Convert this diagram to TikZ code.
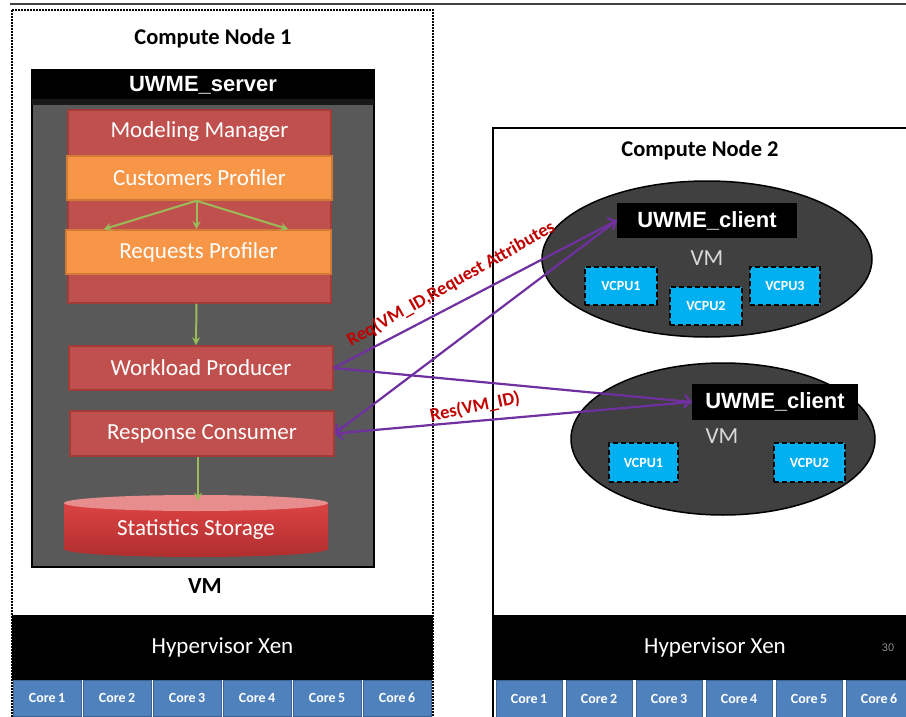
\documentclass[tikz,border=0pt]{standalone}
\usepackage{fontspec}
\setmainfont{Carlito}
\newfontfamily\arialf{Liberation Sans}
\usetikzlibrary{arrows.meta,shapes.geometric}
\definecolor{vmgray}{HTML}{595959}
\definecolor{redbox}{HTML}{C0504D}
\definecolor{redborder}{HTML}{A13C39}
\definecolor{orangebox}{HTML}{F79646}
\definecolor{orangeborder}{HTML}{D07A35}
\definecolor{greenarr}{HTML}{9BBB59}
\definecolor{purplearr}{HTML}{7030A0}
\definecolor{ellfill}{HTML}{404040}
\definecolor{vcpucol}{HTML}{00B0F0}
\definecolor{corefill}{HTML}{4F81BD}
\definecolor{coreborder}{HTML}{3A6394}
\definecolor{labelred}{HTML}{C00000}
\definecolor{vmtext}{HTML}{D9D9D9}
\definecolor{topline}{HTML}{404040}
\definecolor{cyltop}{HTML}{E88D8D}
\definecolor{cylhi}{HTML}{DB4343}
\definecolor{cyllo}{HTML}{B02E2E}
\tikzset{
  boxtext/.style={font=\fontsize{23}{25}\selectfont, text=white},
  rbox/.style={boxtext, draw=redborder, line width=1.5pt, fill=redbox, inner sep=0pt},
  obox/.style={boxtext, draw=orangeborder, line width=1.5pt, fill=orangebox, inner sep=0pt},
  garrow/.style={draw=greenarr, line width=2pt, -{Stealth[length=8pt,width=8pt]}},
  parrow/.style={draw=purplearr, line width=2.2pt, -{Straight Barb[length=6pt,width=13pt,line width=2.2pt]}},
  uwme/.style={fill=black, text=white, font=\arialf\bfseries\fontsize{22}{24}\selectfont, inner sep=0pt},
  vmell/.style={ellipse, draw=black, line width=1.5pt, fill=ellfill, inner sep=0pt},
  vmlabel/.style={text=vmtext, font=\fontsize{23}{25}\selectfont},
  vcpu/.style={fill=vcpucol, draw=black, line width=2pt, dash pattern=on 5pt off 3pt, text=white, font=\bfseries\fontsize{14}{16}\selectfont, inner sep=0pt},
  hyper/.style={fill=black, text=white, font=\fontsize{23}{25}\selectfont, inner sep=0pt},
  corebox/.style={fill=corefill, draw=coreborder, line width=0.8pt, text=white, font=\bfseries\fontsize{14}{16}\selectfont, inner sep=0pt, minimum height=36pt},
  title/.style={font=\bfseries\fontsize{22.5}{25}\selectfont, text=black},
  msglabel/.style={text=labelred, font=\bfseries\fontsize{18.5}{20}\selectfont, inner sep=1pt}
}
\begin{document}
\begin{tikzpicture}[x=1pt,y=-1pt]
\useasboundingbox (0,0) rectangle (906,717);
\fill[white] (0,0) rectangle (906,717);
% top line
\draw[topline, line width=2.5pt] (10,4) -- (906,4);
% compute node 1 dotted box
\draw[black, line width=2pt, dash pattern=on 1.6pt off 1.4pt] (12,10) rectangle (433,730);
\node[title] (cn1) at (213,38) {Compute Node 1};
% VM box
\draw[fill=vmgray, draw=black, line width=2pt] (32,70) rectangle (374,567);
\fill[black!90] (32,97) rectangle (374,105);
\node[uwme, minimum width=342pt, minimum height=28pt, font=\arialf\bfseries\fontsize{22}{24}\selectfont] (server) at (203,85) {UWME\_server};
% modeling manager
\node[rbox, minimum width=263pt, minimum height=193pt] (mm) at (199.5,206.5) {};
\node[boxtext] (mmt) at (199.5,131) {Modeling Manager};
\node[obox, minimum width=265pt, minimum height=44pt] (cp) at (199.5,178) {Customers Profiler};
\node[obox, minimum width=265pt, minimum height=44pt] (rp) at (198.5,252) {Requests Profiler};
\draw[garrow] ([xshift=-3pt]cp.south) -- ([xshift=-95pt]rp.north);
\draw[garrow] ([xshift=-3pt]cp.south) -- ([xshift=-2pt]rp.north);
\draw[garrow] ([xshift=-3pt]cp.south) -- ([xshift=90pt]rp.north);
\node[rbox, minimum width=264pt, minimum height=44pt] (wp) at (201,368) {Workload Producer};
\node[rbox, minimum width=264pt, minimum height=45pt] (rc) at (202,433.5) {Response Consumer};
\draw[garrow] ([xshift=-3pt]mm.south) -- ([xshift=-5pt]wp.north);
% cylinder
\shade[top color=cylhi, bottom color=cyllo] (64,503) -- (64,549) arc[start angle=180, end angle=360, x radius=132pt, y radius=8pt] -- (328,503) -- cycle;
\fill[cyltop] (196,503) ellipse [x radius=132pt, y radius=8pt];
\node[boxtext, minimum width=264pt, minimum height=54pt] (ss) at (196,530) {Statistics Storage};
\draw[garrow] ([xshift=-4pt]rc.south) -- ([xshift=2pt,yshift=2pt]ss.north);
\node[title, font=\bfseries\fontsize{23}{25}\selectfont] (vm1) at (205,586) {VM};
% hypervisor 1
\node[hyper, minimum width=421pt, minimum height=65pt] (hx1) at (222.5,647.5) {Hypervisor Xen};
\foreach \i in {1,...,6} {
  \node[corebox, minimum width=68pt] (la\i) at ({47+70*(\i-1)},698) {Core\,\i};
}
% compute node 2
\draw[black, line width=2pt] (940,128) -- (493,128) -- (493,760);
\node[title] (cn2) at (700,150) {Compute Node 2};
\node[vmell, minimum width=330pt, minimum height=156pt] (e1) at (707,259) {};
\node[uwme, minimum width=180pt, minimum height=35pt] (c1) at (707,220.5) {UWME\_client};
\node[vmlabel] (vmA) at (707,258) {VM};
\node[vcpu, minimum width=72pt, minimum height=38pt] (va1) at (621,286) {VCPU1};
\node[vcpu, minimum width=72pt, minimum height=38pt] (va2) at (706,305.5) {VCPU2};
\node[vcpu, minimum width=70pt, minimum height=38pt] (va3) at (785,286) {VCPU3};
\node[vmell, minimum width=304pt, minimum height=152pt] (e2) at (723,439) {};
\node[uwme, minimum width=166pt, minimum height=36pt] (c2) at (775,402) {UWME\_client};
\node[vmlabel] (vmB) at (722,436) {VM};
\node[vcpu, minimum width=69pt, minimum height=39pt] (vb1) at (643.5,462.5) {VCPU1};
\node[vcpu, minimum width=71pt, minimum height=39pt] (vb2) at (809.5,462.5) {VCPU2};
% hypervisor 2
\node[hyper, minimum width=444pt, minimum height=65pt] (hx2) at (715,647.5) {Hypervisor Xen};
\node[text=black!45, font=\arialf\fontsize{11}{12}\selectfont] (pg) at (888,648) {30};
\foreach \i in {1,...,6} {
  \node[corebox, minimum width=66pt, minimum height=37pt] (lb\i) at ({529+70*(\i-1)},698.5) {Core\,\i};
}
% messages
\draw[parrow] (wp.east) -- (c1.west);
\draw[parrow] (c1.west) -- (rc.east);
\draw[parrow] (wp.east) -- (c2.west);
\draw[parrow] (c2.west) -- (rc.east);
\node[msglabel, rotate=29.5] (req) at (451,284) {Req(VM\_ID,Request Attributes};
\node[msglabel, rotate=11.5] (res) at (475,407) {Res(VM\_ID)};
\end{tikzpicture}
\end{document}
